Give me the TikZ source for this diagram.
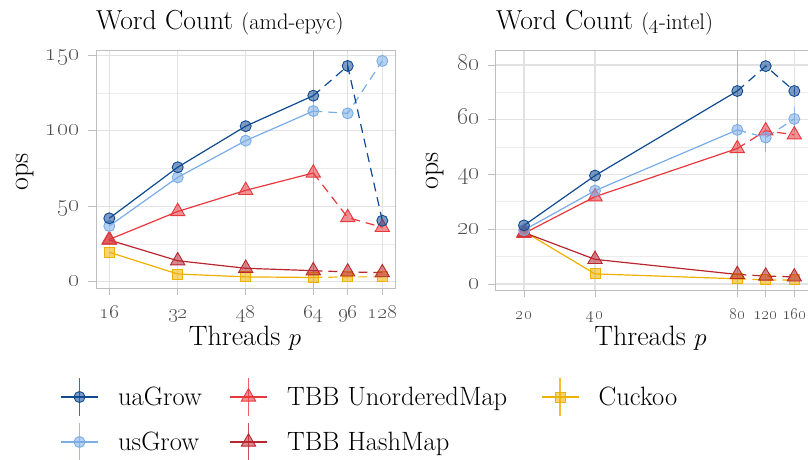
\documentclass[tikz,border=0pt]{standalone}
\usetikzlibrary{shapes.geometric}
\definecolor{cUa}{RGB}{16,74,146}
\definecolor{cUs}{RGB}{122,172,230}
\definecolor{cTu}{RGB}{232,56,61}
\definecolor{cTh}{RGB}{184,38,46}
\definecolor{cCu}{RGB}{240,176,0}
\definecolor{gridc}{RGB}{226,226,226}
\definecolor{gridm}{RGB}{236,236,236}
\definecolor{framec}{RGB}{190,190,190}
\definecolor{tickc}{RGB}{77,77,77}
\definecolor{vlinec}{RGB}{180,180,180}
\tikzset{
  mk/.style={inner sep=0pt, draw=#1, fill=#1, fill opacity=0.55, line width=0.9pt},
  mcirc/.style={mk=#1, circle, minimum size=11pt},
  mtri/.style={mk=#1, regular polygon, regular polygon sides=3, minimum size=16.5pt},
  msq/.style={mk=#1, rectangle, minimum size=10pt},
  ser/.style={draw=#1, line width=1.2pt},
  serd/.style={draw=#1, line width=1.2pt, dash pattern=on 9pt off 6pt},
  ebar/.style={draw=#1, line width=1.2pt, draw opacity=0.8},
  majgrid/.style={draw=gridc, line width=1.4pt},
  mingrid/.style={draw=gridm, line width=0.8pt},
  framebox/.style={draw=framec, line width=1pt},
  tickmark/.style={draw=framec, line width=1pt},
  vmark/.style={draw=vlinec, line width=1.4pt},
  ytl/.style={anchor=base east, text=tickc, font=\fontsize{26}{26}\selectfont, inner sep=0pt},
  xtl/.style={anchor=base, text=tickc, font=\fontsize{20.5}{20.5}\selectfont, inner sep=0pt},
  xtlr/.style={anchor=base, text=tickc, font=\fontsize{19}{19}\selectfont, inner sep=0pt},
  ttl/.style={anchor=base west, font=\fontsize{27.5}{27.5}\selectfont, inner sep=0pt},
  axl/.style={font=\fontsize{28}{28}\selectfont, inner sep=0pt},
  leg/.style={anchor=base west, font=\fontsize{26.5}{26.5}\selectfont, inner sep=0pt},
}
\begin{document}
\begin{tikzpicture}[x=1pt,y=-1pt]
\useasboundingbox (0,0) rectangle (808,459);

% ===================== LEFT PANEL (amd-epyc) =====================
\foreach \v in {25,75,125} \draw[mingrid] (96,{281.7-1.51*\v}) -- (395,{281.7-1.51*\v});
\foreach \v in {0,50,100,150} \draw[majgrid] (96,{281.7-1.51*\v}) -- (395,{281.7-1.51*\v});
\foreach \x in {109.3,177.7,245.7,347.7,382.3} \draw[majgrid] (\x,50) -- (\x,288);
\draw[vmark] (313.3,50) -- (313.3,288);
\draw[framebox] (96,50) rectangle (395,288);
\foreach \v in {0,50,100,150} \draw[tickmark] (88,{281.7-1.51*\v}) -- (96,{281.7-1.51*\v});
\foreach \x in {109.3,177.7,245.7,313.3,347.7,382.3} \draw[tickmark] (\x,288) -- (\x,295);
\foreach \v in {0,50,100,150} \node[ytl] (Lyt\v) at (80,{281.7-1.51*\v+5}) {\oldstylenums{\v}};
\foreach \x/\t in {109.3/16,177.7/32,245.7/48,313.3/64,347.7/96,382.3/128} \node[xtl] (Lxt\t) at (\x,318) {\oldstylenums{\t}};
\node[ttl] (Ltitle) at (96,29) {Word Count {\fontsize{22.5}{22.5}\selectfont(amd-epyc)}};
\node[axl, rotate=90] (Lylab) at (25,172) {ops};
\node[axl, anchor=base] (Lxlab) at (245,345) {Threads $p$};

\foreach \n/\x/\v in {1/109.3/42,2/177.7/75.8,3/245.7/103,4/313.3/123.2,5/347.7/142.9,6/382.3/40.4}
  \coordinate (Lua\n) at (\x,{281.7-1.51*\v});
\foreach \n/\x/\v in {1/109.3/36.9,2/177.7/69.1,3/245.7/93.4,4/313.3/113,5/347.7/111.5,6/382.3/146.2}
  \coordinate (Lus\n) at (\x,{281.7-1.51*\v});
\foreach \n/\x/\v in {1/109.3/28,2/177.7/46.5,3/245.7/60.5,4/313.3/72,5/347.7/42.5,6/382.3/36}
  \coordinate (Ltu\n) at (\x,{281.7-1.51*\v});
\foreach \n/\x/\v in {1/109.3/27.6,2/177.7/13.9,3/245.7/8.9,4/313.3/7.3,5/347.7/6.5,6/382.3/6}
  \coordinate (Lth\n) at (\x,{281.7-1.51*\v});
\foreach \n/\x/\v in {1/109.3/19.5,2/177.7/5.1,3/245.7/3.2,4/313.3/2.8,5/347.7/3.2,6/382.3/3.2}
  \coordinate (Lcu\n) at (\x,{281.7-1.51*\v});
\coordinate (Lua5lo) at (347.7,{281.7-1.51*139});
\coordinate (Lua5hi) at (347.7,{281.7-1.51*146});

\draw[ser=cCu] (Lcu1)--(Lcu2)--(Lcu3)--(Lcu4);
\draw[serd=cCu] (Lcu4)--(Lcu5)--(Lcu6);
\draw[ser=cTh] (Lth1)--(Lth2)--(Lth3)--(Lth4);
\draw[serd=cTh] (Lth4)--(Lth5)--(Lth6);
\draw[ser=cTu] (Ltu1)--(Ltu2)--(Ltu3)--(Ltu4);
\draw[serd=cTu] (Ltu4)--(Ltu5)--(Ltu6);
\draw[ser=cUs] (Lus1)--(Lus2)--(Lus3)--(Lus4);
\draw[serd=cUs] (Lus4)--(Lus5)--(Lus6);
\draw[ser=cUa] (Lua1)--(Lua2)--(Lua3)--(Lua4);
\draw[serd=cUa] (Lua4)--(Lua5)--(Lua6);
\draw[ebar=cUa] (Lua5lo) -- (Lua5hi);

\foreach \n in {1,...,6} \node[msq=cCu] (Lcu\n m) at (Lcu\n) {};
\foreach \n in {1,...,6} \node[mtri=cTh] (Lth\n m) at (Lth\n) {};
\foreach \n in {1,...,6} \node[mtri=cTu] (Ltu\n m) at (Ltu\n) {};
\foreach \n in {1,...,6} \node[mcirc=cUs] (Lus\n m) at (Lus\n) {};
\foreach \n in {1,...,6} \node[mcirc=cUa] (Lua\n m) at (Lua\n) {};

% ===================== RIGHT PANEL (4-intel) =====================
\foreach \v in {10,30,50,70} \draw[mingrid] (495.7,{284-2.7375*\v}) -- (815,{284-2.7375*\v});
\foreach \v in {0,20,40,60,80} \draw[majgrid] (495.7,{284-2.7375*\v}) -- (815,{284-2.7375*\v});
\foreach \x in {524,595,765.7,794.3} \draw[majgrid] (\x,50) -- (\x,290.7);
\draw[vmark] (737.3,50) -- (737.3,290.7);
\draw[framebox] (495.7,50) rectangle (815,290.7);
\foreach \v in {0,20,40,60,80} \draw[tickmark] (488,{284-2.7375*\v}) -- (495.7,{284-2.7375*\v});
\foreach \x in {524,595,737.3,765.7,794.3} \draw[tickmark] (\x,290.7) -- (\x,297);
\foreach \v in {0,20,40,60,80} \node[ytl] (Ryt\v) at (480,{284-2.7375*\v+5}) {\oldstylenums{\v}};
\foreach \x/\t in {524/20,595/40,737.3/80,765.7/120,794.3/160} \node[xtlr] (Rxt\t) at (\x,319) {\oldstylenums{\t}};
\node[ttl] (Rtitle) at (496,29) {Word Count {\fontsize{22.5}{22.5}\selectfont(\oldstylenums{4}-intel)}};
\node[axl, rotate=90] (Rylab) at (435,171) {ops};
\node[axl, anchor=base] (Rxlab) at (650.5,345) {Threads $p$};

\foreach \n/\x/\v in {1/524/21.4,2/595/39.6,3/737.3/70.5,4/765.7/79.6,5/794.3/70.5}
  \coordinate (Rua\n) at (\x,{284-2.7375*\v});
\foreach \n/\x/\v in {1/524/19.7,2/595/34.1,3/737.3/56.3,4/765.7/53.5,5/794.3/60.3}
  \coordinate (Rus\n) at (\x,{284-2.7375*\v});
\foreach \n/\x/\v in {1/524/18.5,2/595/31.9,3/737.3/49.5,4/765.7/56,5/794.3/54.5}
  \coordinate (Rtu\n) at (\x,{284-2.7375*\v});
\foreach \n/\x/\v in {1/524/18.8,2/595/9,3/737.3/3.5,4/765.7/2.9,5/794.3/2.6}
  \coordinate (Rth\n) at (\x,{284-2.7375*\v});
\foreach \n/\x/\v in {1/524/19.2,2/595/3.7,3/737.3/1.9,4/765.7/1.5,5/794.3/1.5}
  \coordinate (Rcu\n) at (\x,{284-2.7375*\v});
\coordinate (Rus4lo) at (765.7,{284-2.7375*48.3});
\coordinate (Rus4hi) at (765.7,{284-2.7375*57});
\coordinate (Rus5lo) at (794.3,{284-2.7375*56});
\coordinate (Rus5hi) at (794.3,{284-2.7375*64.8});
\coordinate (Rua5lo) at (794.3,{284-2.7375*69});
\coordinate (Rua5hi) at (794.3,{284-2.7375*72.1});

\draw[ser=cCu] (Rcu1)--(Rcu2)--(Rcu3);
\draw[serd=cCu] (Rcu3)--(Rcu4)--(Rcu5);
\draw[ser=cTh] (Rth1)--(Rth2)--(Rth3);
\draw[serd=cTh] (Rth3)--(Rth4)--(Rth5);
\draw[ser=cTu] (Rtu1)--(Rtu2)--(Rtu3);
\draw[serd=cTu] (Rtu3)--(Rtu4)--(Rtu5);
\draw[ser=cUs] (Rus1)--(Rus2)--(Rus3);
\draw[serd=cUs] (Rus3)--(Rus4)--(Rus5);
\draw[ser=cUa] (Rua1)--(Rua2)--(Rua3);
\draw[serd=cUa] (Rua3)--(Rua4)--(Rua5);
\draw[ebar=cUs] (Rus4lo) -- (Rus4hi);
\draw[ebar=cUs] (Rus5lo) -- (Rus5hi);
\draw[ebar=cUa] (Rua5lo) -- (Rua5hi);

\foreach \n in {1,...,5} \node[msq=cCu] (Rcu\n m) at (Rcu\n) {};
\foreach \n in {1,...,5} \node[mtri=cTh] (Rth\n m) at (Rth\n) {};
\foreach \n in {1,...,5} \node[mtri=cTu] (Rtu\n m) at (Rtu\n) {};
\foreach \n in {1,...,5} \node[mcirc=cUs] (Rus\n m) at (Rus\n) {};
\foreach \n in {1,...,5} \node[mcirc=cUa] (Rua\n m) at (Rua\n) {};

% ===================== LEGEND =====================
\foreach \k/\cx/\cy/\col/\shp/\lab in {
  a/79.5/397/cUa/mcirc/uaGrow,
  b/79.5/442/cUs/mcirc/usGrow,
  c/248.5/397/cTu/mtri/TBB UnorderedMap,
  d/248.5/442/cTh/mtri/TBB HashMap,
  e/560/397/cCu/msq/Cuckoo}{
  \coordinate (K\k l) at (\cx-18.5,\cy);
  \coordinate (K\k r) at (\cx+18.5,\cy);
  \coordinate (K\k t) at (\cx,\cy-19);
  \coordinate (K\k b) at (\cx,\cy+19);
  \draw[ser=\col] (K\k l) -- (K\k r);
  \draw[ebar=\col] (K\k t) -- (K\k b);
  \node[\shp=\col] (K\k m) at (\cx,\cy) {};
  \node[leg] (K\k txt) at (\cx+38.5,\cy+8.5) {\lab};
}
\end{tikzpicture}
\end{document}
